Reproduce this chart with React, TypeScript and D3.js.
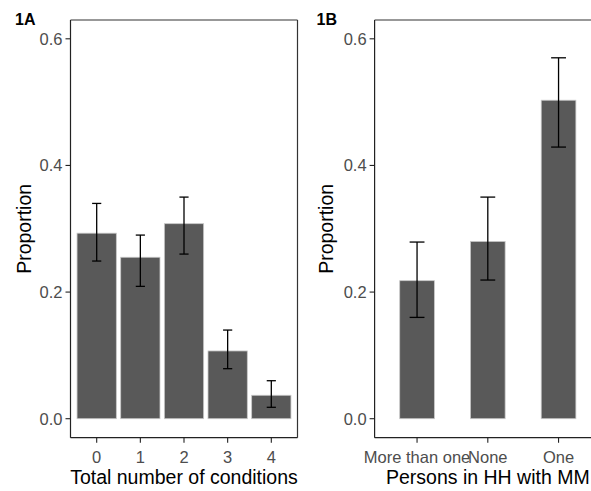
import React from "react";
import * as d3 from "d3";

const catsA = ["0", "1", "2", "3", "4"];
const valsA = [0.293, 0.255, 0.308, 0.107, 0.037];
const loA = [0.249, 0.209, 0.26, 0.079, 0.018];
const hiA = [0.34, 0.29, 0.35, 0.14, 0.06];

const catsB = ["More than one", "None", "One"];
const valsB = [0.218, 0.28, 0.503];
const loB = [0.16, 0.219, 0.429];
const hiB = [0.279, 0.35, 0.57];

const yTicks = [0, 0.2, 0.4, 0.6];

const W = 591;
const H = 491;
const TOP = 20;
const BOTTOM = 437.7;
const FONT = "Liberation Sans, Arial, sans-serif";

type PanelProps = {
  cats: string[];
  vals: number[];
  lo: number[];
  hi: number[];
  left: number;
  right: number;
  barWidth: number;
  tag: string;
  tagX: number;
  title: string;
  yTitleX: number;
  border: boolean;
};

function Panel(p: PanelProps) {
  const y = d3.scaleLinear().domain([-0.03, 0.6297]).range([BOTTOM, TOP]);
  const x = d3.scalePoint<string>().domain(p.cats).range([p.left, p.right]).padding(0.6);
  const step = x.step();
  const bw = step * p.barWidth;
  const cap = step * 0.105;
  const fmt = d3.format(".1f");
  return (
    <g>
      {p.cats.map((c, i) => (
        <rect
          key={"b" + i}
          x={(x(c) as number) - bw / 2}
          y={y(p.vals[i])}
          width={bw}
          height={y(0) - y(p.vals[i])}
          fill="#595959"
          stroke="#c8c8c8"
          strokeWidth={0.8}
        />
      ))}
      {p.cats.map((c, i) => {
        const cx = x(c) as number;
        return (
          <g key={"e" + i} stroke="#000" strokeWidth={1.3}>
            <line x1={cx} x2={cx} y1={y(p.hi[i])} y2={y(p.lo[i])} />
            <line x1={cx - cap} x2={cx + cap} y1={y(p.hi[i])} y2={y(p.hi[i])} />
            <line x1={cx - cap} x2={cx + cap} y1={y(p.lo[i])} y2={y(p.lo[i])} />
          </g>
        );
      })}
      {/* axes */}
      <line x1={p.left} x2={p.left} y1={TOP} y2={BOTTOM} stroke="#222" strokeWidth={1.2} />
      <line x1={p.left} x2={p.right} y1={BOTTOM} y2={BOTTOM} stroke="#222" strokeWidth={1.2} />
      <line x1={p.left} x2={p.right} y1={TOP} y2={TOP} stroke="#333" strokeWidth={1.2} />
      {p.border && (
        <line x1={p.right} x2={p.right} y1={TOP} y2={BOTTOM} stroke="#333" strokeWidth={1.2} />
      )}
      {yTicks.map((t) => (
        <g key={"y" + t}>
          <line x1={p.left - 5} x2={p.left} y1={y(t)} y2={y(t)} stroke="#222" strokeWidth={1.1} />
          <text
            x={p.left - 8}
            y={y(t)}
            dy="0.36em"
            textAnchor="end"
            fontSize={16.5}
            fill="#4d4d4d"
            fontFamily={FONT}
          >
            {fmt(t)}
          </text>
        </g>
      ))}
      {p.cats.map((c) => (
        <g key={"x" + c}>
          <line x1={x(c)} x2={x(c)} y1={BOTTOM} y2={BOTTOM + 5} stroke="#222" strokeWidth={1.1} />
          <text
            x={x(c)}
            y={462.5}
            textAnchor="middle"
            fontSize={16.5}
            fill="#4d4d4d"
            fontFamily={FONT}
          >
            {c}
          </text>
        </g>
      ))}
      <text
        x={(p.left + p.right) / 2}
        y={484}
        textAnchor="middle"
        fontSize={19.5}
        fill="#000"
        fontFamily={FONT}
      >
        {p.title}
      </text>
      <text
        transform={`translate(${p.yTitleX},${(TOP + BOTTOM) / 2}) rotate(-90)`}
        textAnchor="middle"
        fontSize={19.5}
        fill="#000"
        fontFamily={FONT}
      >
        Proportion
      </text>
      <text x={p.tagX} y={25} fontSize={16} fontWeight="bold" fill="#000" fontFamily={FONT}>
        {p.tag}
      </text>
    </g>
  );
}

export default function App() {
  return (
    <svg
      width={W}
      height={H}
      style={{ position: "absolute", left: 0, top: 0, background: "#fff" }}
    >
      <rect x={0} y={0} width={W} height={H} fill="#fff" />
      <Panel
        cats={catsA}
        vals={valsA}
        lo={loA}
        hi={hiA}
        left={70.5}
        right={297.5}
        barWidth={0.9}
        tag="1A"
        tagX={15}
        title="Total number of conditions"
        yTitleX={31}
        border={true}
      />
      <Panel
        cats={catsB}
        vals={valsB}
        lo={loB}
        hi={hiB}
        left={374.6}
        right={601}
        barWidth={0.49}
        tag="1B"
        tagX={316.5}
        title="Persons in HH with MM"
        yTitleX={333}
        border={false}
      />
    </svg>
  );
}
